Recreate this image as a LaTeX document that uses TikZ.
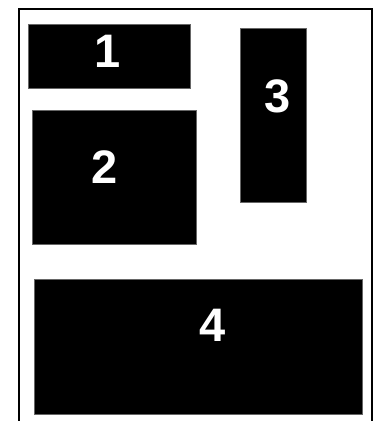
\documentclass[tikz,border=0pt]{standalone}
\usepackage{fontspec}
\setmainfont{Liberation Sans}
\begin{document}
\begin{tikzpicture}[x=1pt,y=-1pt,
  blk/.style={fill=black,draw=black!60,line width=0.6pt,inner sep=0pt,outer sep=0pt,rectangle},
  lbl/.style={text=white,font=\fontsize{47}{47}\selectfont\bfseries,inner sep=0pt,anchor=center},
  frame/.style={draw=black,line width=2pt}]
\useasboundingbox (0,0) rectangle (377,421);
\draw[frame] (19,422) -- (19,9) -- (372,9) -- (372,422);
\node[blk,minimum width=162pt,minimum height=64pt] (b1) at (109,56) {};
\node[blk,minimum width=164pt,minimum height=134pt] (b2) at (114,177) {};
\node[blk,minimum width=66pt,minimum height=174pt] (b3) at (273,115) {};
\node[blk,minimum width=328pt,minimum height=135pt] (b4) at (198,346.5) {};
\node[lbl] (l1) at (108,51) {1};
\node[lbl] (l2) at (105,167) {2};
\node[lbl] (l3) at (278,96) {3};
\node[lbl] (l4) at (213,325) {4};
\end{tikzpicture}
\end{document}
